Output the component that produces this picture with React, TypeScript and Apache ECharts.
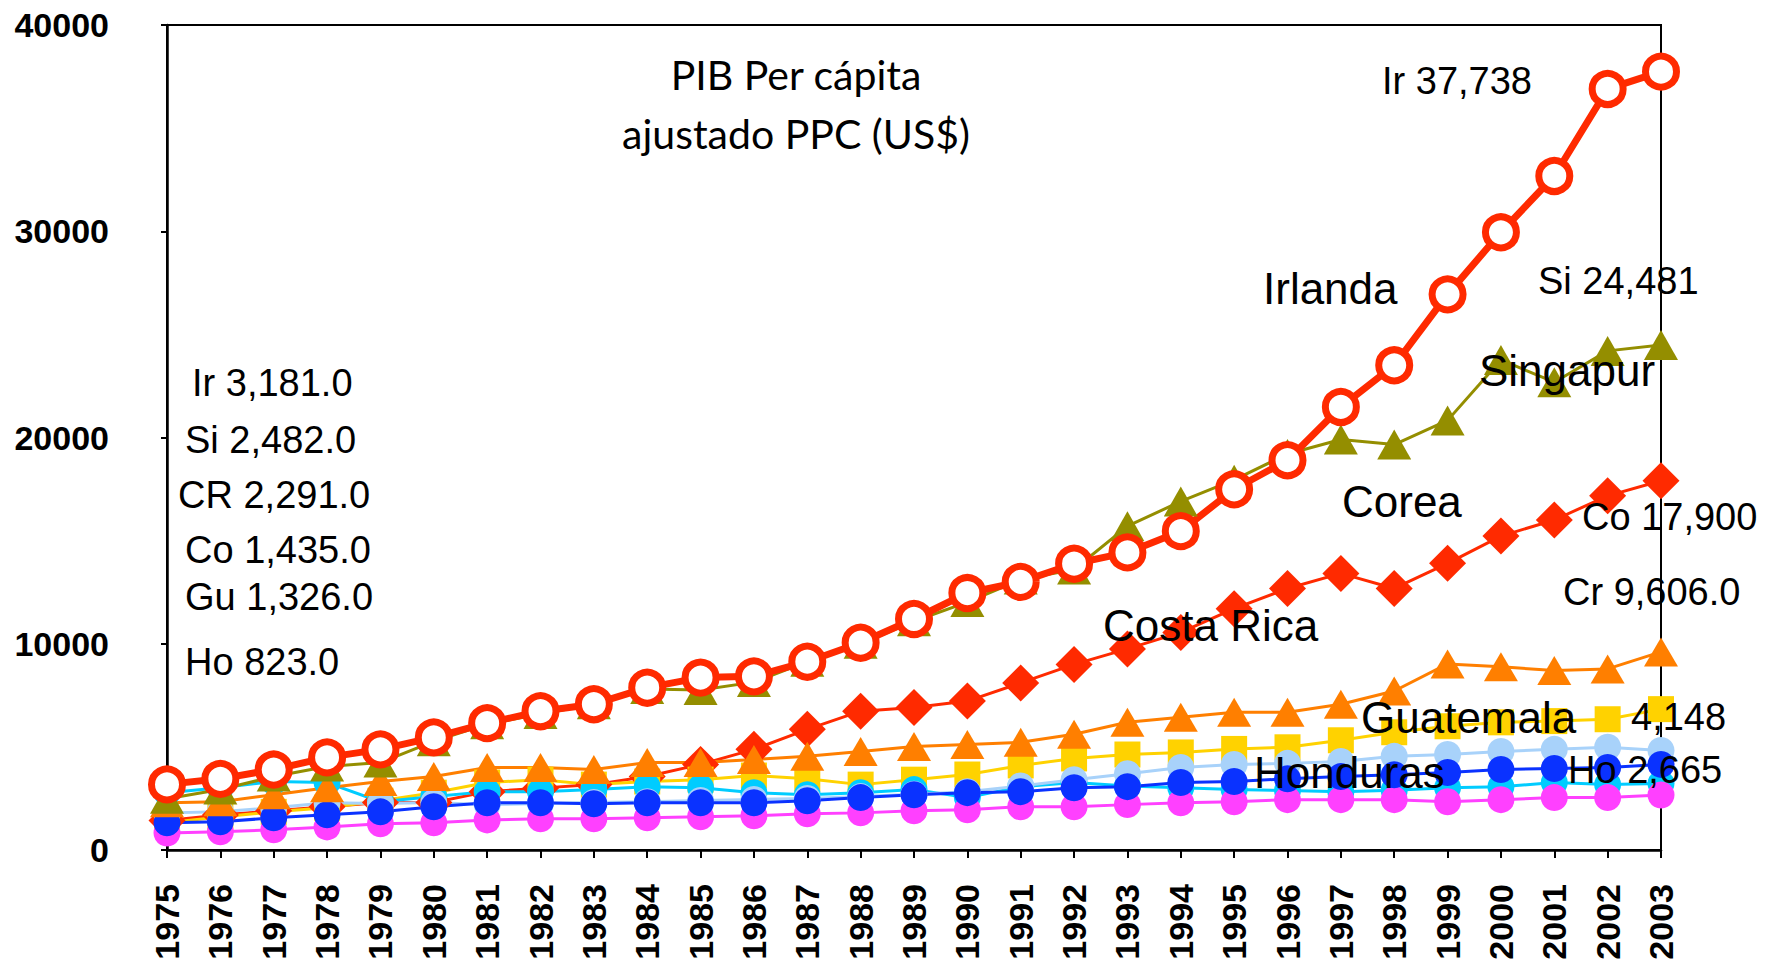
import React, { useEffect, useRef } from "react";
import * as echarts from "echarts";

const years = ["1975","1976","1977","1978","1979","1980","1981","1982","1983","1984","1985","1986","1987","1988","1989","1990","1991","1992","1993","1994","1995","1996","1997","1998","1999","2000","2001","2002","2003"];

const irlanda = [3181, 3450, 3900, 4490, 4880, 5460, 6150, 6730, 7070, 7870, 8360, 8420, 9130, 10050, 11200, 12460, 13000, 13880, 14430, 15460, 17490, 18900, 21480, 23500, 26940, 29950, 32680, 36900, 37738];
const singapur = [2482, 2930, 3560, 4050, 4240, 5270, 6100, 6590, 7070, 7810, 7760, 8140, 9130, 10000, 11090, 12020, 13110, 13600, 15700, 16900, 17950, 19200, 19900, 19660, 20830, 23760, 22680, 24200, 24481];
const corea = [1435, 1700, 1900, 2100, 2300, 2300, 2830, 3000, 3170, 3560, 4150, 4880, 5850, 6730, 6910, 7220, 8100, 9000, 9750, 10550, 11700, 12680, 13410, 12680, 13900, 15220, 16000, 17170, 17900];
const costaRica = [2291, 2340, 2680, 3020, 3320, 3560, 4000, 4000, 3900, 4240, 4240, 4390, 4540, 4780, 5020, 5120, 5220, 5610, 6190, 6440, 6680, 6680, 7070, 7710, 9020, 8880, 8700, 8780, 9606];
const guatemala = [1326, 1600, 1850, 2050, 2390, 2780, 3270, 3410, 3170, 3320, 3410, 3610, 3460, 3170, 3410, 3660, 4100, 4440, 4630, 4730, 4900, 4980, 5320, 5710, 6000, 6190, 6250, 6340, 6830];
const serieCeleste = [1800, 1850, 2050, 2290, 2250, 2300, 2200, 2250, 2300, 2340, 2400, 2450, 2500, 2590, 2700, 2830, 3100, 3410, 3700, 4000, 4150, 4200, 4290, 4540, 4630, 4780, 4880, 4980, 4830];
const serieCian = [2780, 3020, 3320, 3270, 2340, 2590, 2830, 2830, 2930, 3070, 3020, 2780, 2680, 2780, 2930, 2540, 3070, 3270, 3100, 3020, 2930, 2880, 2830, 2900, 3020, 3070, 3270, 3170, 3220];
const serieAzul = [1320, 1370, 1560, 1710, 1850, 2100, 2290, 2290, 2240, 2290, 2290, 2290, 2390, 2540, 2680, 2780, 2830, 3020, 3070, 3270, 3320, 3450, 3560, 3650, 3760, 3900, 3950, 4000, 4150];
const honduras = [823, 880, 980, 1120, 1270, 1320, 1460, 1510, 1510, 1560, 1610, 1660, 1760, 1800, 1900, 1950, 2100, 2100, 2200, 2290, 2340, 2440, 2440, 2440, 2340, 2440, 2540, 2540, 2665];

const titleLines = ["PIB Per cápita", "ajustado PPC (US$)"];
const startLabels = ["Ir 3,181.0", "Si 2,482.0", "CR 2,291.0", "Co 1,435.0", "Gu 1,326.0", "Ho 823.0"];

const LABEL_FONT = "Liberation Sans";

function txt(text: string, x: number, y: number, size: number, family = LABEL_FONT, align = "left") {
  return {
    type: "text",
    x,
    y,
    z: 50,
    style: {
      text,
      fontSize: size,
      fontFamily: family,
      fill: "#000",
      textAlign: align,
      align,
      textVerticalAlign: "middle",
      verticalAlign: "middle",
    },
  };
}

export default function App() {
  const ref = useRef<HTMLDivElement>(null);
  useEffect(() => {
    document.body.style.margin = "0";
    const chart = echarts.init(ref.current!, null, { renderer: "svg" });
    const line = (name: string, data: number[], color: string, symbol: string, size: any, width = 3, extra: any = {}) => ({
      name,
      type: "line",
      data,
      symbol,
      symbolSize: size,
      showSymbol: true,
      lineStyle: { color, width },
      itemStyle: { color, borderWidth: 0 },
      emphasis: { disabled: true },
      ...extra,
    });
    chart.setOption({
      animation: false,
      backgroundColor: "#fff",
      grid: { left: 167, right: 108, top: 25, bottom: 116, show: true, borderColor: "#000", borderWidth: 2 },
      xAxis: {
        type: "category",
        data: years,
        boundaryGap: false,
        axisLine: { lineStyle: { color: "#000", width: 2.5 } },
        axisTick: { alignWithLabel: true, length: 8, lineStyle: { color: "#000", width: 2 } },
        axisLabel: { rotate: 90, margin: 34, color: "#000", fontWeight: "bold", fontSize: 34, fontFamily: LABEL_FONT, interval: 0 },
        splitLine: { show: false },
      },
      yAxis: {
        type: "value",
        min: 0,
        max: 40000,
        interval: 10000,
        axisLine: { show: true, lineStyle: { color: "#000", width: 2.5 } },
        axisTick: { show: true, length: 6, lineStyle: { color: "#000", width: 2 } },
        axisLabel: { margin: 58, color: "#000", fontWeight: "bold", fontSize: 34, fontFamily: LABEL_FONT, formatter: (v: number) => String(v) },
        splitLine: { show: false },
      },
      series: [
        line("Corea", corea, "#FF2A00", "diamond", 37),
        line("Guatemala", guatemala, "#FFD200", "rect", 26),
        line("Serie cian", serieCian, "#00CCFF", "circle", 27),
        line("Serie celeste", serieCeleste, "#A8D2FA", "circle", 27),
        line("Honduras", honduras, "#FF40FF", "circle", 27),
        line("Serie azul", serieAzul, "#0A32FF", "circle", 27),
        line("Costa Rica", costaRica, "#FF7F00", "triangle", [34, 29]),
        line("Singapur", singapur, "#948E00", "triangle", [34, 30]),
        line("Irlanda", irlanda, "#FF2A00", "circle", 31, 7, {
          itemStyle: { color: "#fff", borderColor: "#FF2A00", borderWidth: 7 },
        }),
      ],
      graphic: [
        txt(titleLines[0], 796, 74, 41, "Lato", "center"),
        txt(titleLines[1], 796, 133, 41, "Lato", "center"),
        txt(startLabels[0], 192, 383, 38),
        txt(startLabels[1], 185, 440, 38),
        txt(startLabels[2], 178, 495, 38),
        txt(startLabels[3], 185, 550, 38),
        txt(startLabels[4], 185, 597, 38),
        txt(startLabels[5], 185, 662, 38),
        txt("Ir 37,738", 1382, 81, 38),
        txt("Irlanda", 1263, 288, 44),
        txt("Si 24,481", 1538, 281, 38),
        txt("Singapur", 1479, 370, 44),
        txt("Corea", 1342, 501, 44),
        txt("Co 17,900", 1582, 517, 38),
        txt("Cr 9,606.0", 1563, 592, 38),
        txt("Costa Rica", 1103, 625, 44),
        txt("Guatemala", 1361, 717, 44),
        txt("4,148", 1631, 717, 38),
        txt("Honduras", 1254, 772, 44),
        txt("Ho 2,665", 1568, 770, 38),
      ],
    });
    return () => chart.dispose();
  }, []);
  return <div ref={ref} style={{ width: 1769, height: 966 }} />;
}
